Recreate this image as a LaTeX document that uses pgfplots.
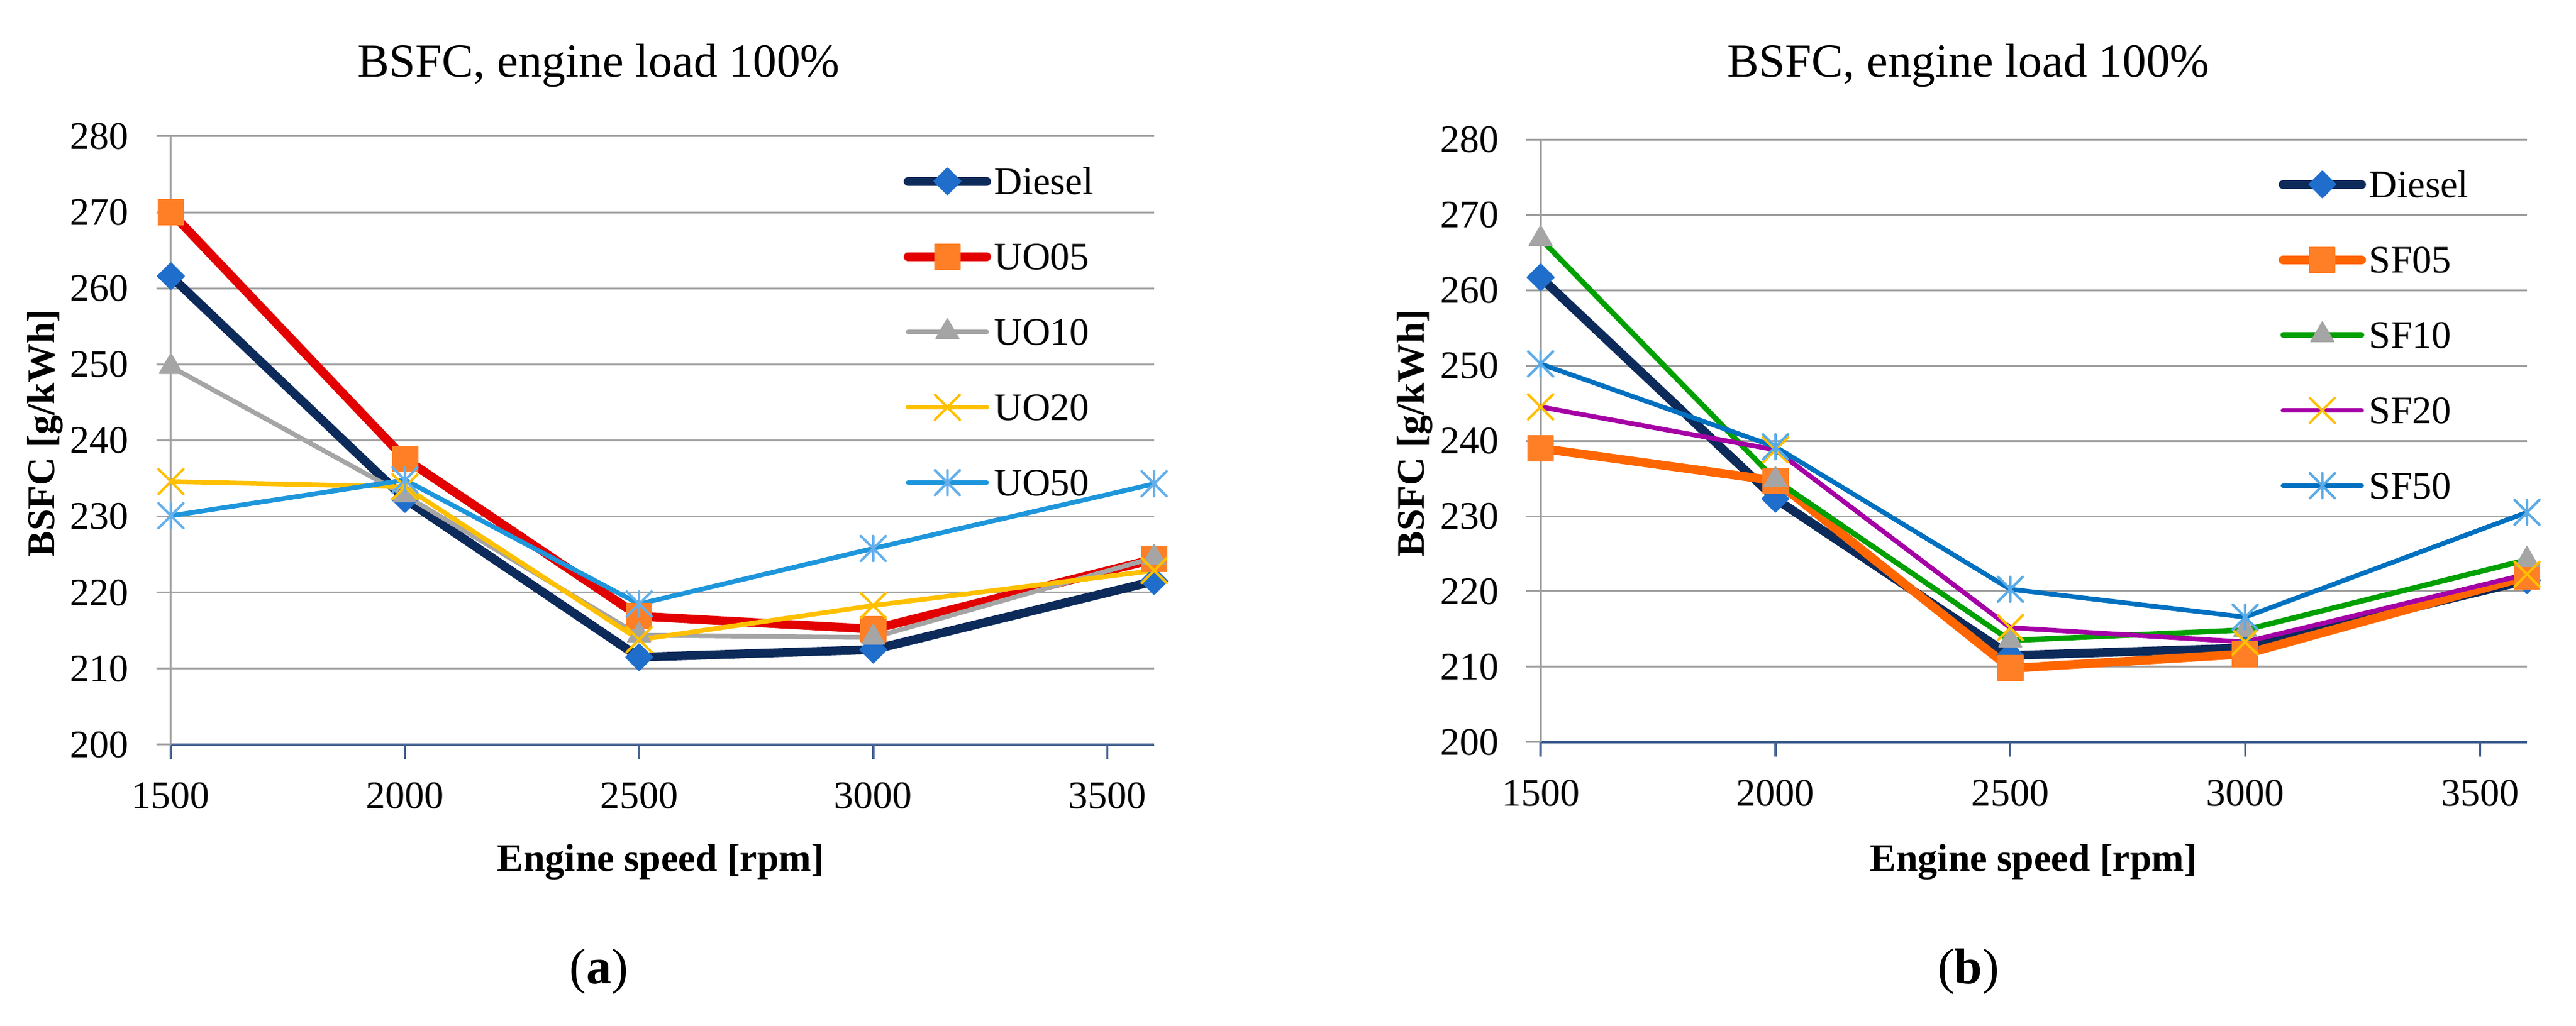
\documentclass[border=0pt]{standalone}
\usepackage{fontspec}
\setmainfont{Liberation Serif}
\usepackage{pgfplots}
\pgfplotsset{compat=1.18}
\usetikzlibrary{plotmarks}

\definecolor{navy}{RGB}{12,42,90}
\definecolor{dblue}{RGB}{31,110,203}
\definecolor{cred}{RGB}{226,0,0}
\definecolor{corange}{RGB}{255,127,39}
\definecolor{cgray}{RGB}{165,165,165}
\definecolor{cgold}{RGB}{255,192,0}
\definecolor{uoblue}{RGB}{30,150,220}
\definecolor{uoblm}{RGB}{100,175,235}
\definecolor{sforange}{RGB}{255,102,0}
\definecolor{sfgreen}{RGB}{0,160,0}
\definecolor{sfpurple}{RGB}{165,0,165}
\definecolor{sfblue}{RGB}{0,112,192}
\definecolor{sfblm}{RGB}{90,170,230}
\definecolor{axblue}{RGB}{68,98,145}
\definecolor{gridgray}{RGB}{160,160,160}

\pgfdeclareplotmark{xstar}{%
  \pgfpathmoveto{\pgfqpoint{-.7071\pgfplotmarksize}{-.7071\pgfplotmarksize}}%
  \pgfpathlineto{\pgfqpoint{.7071\pgfplotmarksize}{.7071\pgfplotmarksize}}%
  \pgfpathmoveto{\pgfqpoint{-.7071\pgfplotmarksize}{.7071\pgfplotmarksize}}%
  \pgfpathlineto{\pgfqpoint{.7071\pgfplotmarksize}{-.7071\pgfplotmarksize}}%
  \pgfpathmoveto{\pgfqpoint{0pt}{-.7071\pgfplotmarksize}}%
  \pgfpathlineto{\pgfqpoint{0pt}{.7071\pgfplotmarksize}}%
  \pgfusepathqstroke}

\pgfplotsset{
  bsfc/.style={
    scale only axis, xmin=1500, xmax=3600, ymin=200, ymax=280,
    xtick={1500,2000,2500,3000,3500}, ytick={200,210,...,280},
    axis x line*=bottom, axis y line*=left,
    x axis line style={-, draw=axblue, line width=0.35pt},
    y axis line style={-, draw=gridgray, line width=0.3pt},
    ymajorgrids, major grid style={draw=gridgray, line width=0.3pt},
    tick align=outside, major tick length=2.3pt,
    xtick style={draw=axblue, line width=0.35pt},
    ytick style={draw=gridgray, line width=0.3pt},
    /pgf/number format/assume math mode=true,
    /pgf/number format/1000 sep={},
    ticklabel style={font=\fontsize{6.2}{7}\selectfont},
    yticklabel style={inner sep=0pt, xshift=-4.2pt},
    xticklabel style={inner sep=0pt, yshift=-3.5pt},
    clip=false,
    legend style={draw=none, fill=none, inner sep=0pt, row sep=0pt, anchor=north west,
      font=\fontsize{6.2}{7}\selectfont,
      nodes={inner xsep=0.5pt, inner ysep=0pt, text height=8.05pt, text depth=3.95pt}},
    legend cell align=left,
    legend image code/.code={\draw[mark repeat=2,mark phase=2,#1] plot coordinates {(0pt,0pt) (6.25pt,0pt) (12.5pt,0pt)};},
    every axis plot/.append style={line join=round, line cap=round},
  },
  thick line/.style={line width=1.4pt},
  thin line/.style={line width=0.75pt},
}

\begin{document}
\begin{tikzpicture}
\path[use as bounding box] (0pt,0pt) rectangle (410pt,163.4pt);

% ---------- panel (a) ----------
\begin{axis}[bsfc, at={(27.2pt,44.8pt)}, anchor=south west, width=156.5pt, height=96.9pt,
  legend style={at={(0.7440,0.9900)}}]
\addplot[navy, thick line, mark=square*, mark size=1.5pt, mark options={rotate=45, fill=dblue, draw=dblue, line width=0.2pt}]
  coordinates {(1500,261.6) (2000,232.3) (2500,211.5) (3000,212.5) (3600,221.5)};
\addlegendentry{Diesel}
\addplot[cred, thick line, mark=square*, mark size=2.0pt, mark options={fill=corange, draw=corange, line width=0.2pt}]
  coordinates {(1500,270.0) (2000,237.6) (2500,216.9) (3000,215.2) (3600,224.4)};
\addlegendentry{UO05}
\addplot[cgray, thin line, mark=triangle*, mark size=2.1pt, mark options={fill=cgray, draw=cgray, line width=0.2pt}]
  coordinates {(1500,249.7) (2000,232.8) (2500,214.4) (3000,214.1) (3600,224.6)};
\addlegendentry{UO10}
\addplot[cgold, thin line, mark=x, mark size=2.8pt, mark options={draw=cgold, line width=0.4pt}]
  coordinates {(1500,234.6) (2000,233.9) (2500,213.8) (3000,218.3) (3600,222.9)};
\addlegendentry{UO20}
\addplot[uoblue, thin line, mark=xstar, mark size=2.8pt, mark options={draw=uoblm, line width=0.4pt}]
  coordinates {(1500,230.1) (2000,234.8) (2500,218.5) (3000,225.8) (3600,234.3)};
\addlegendentry{UO50}
\end{axis}

% ---------- panel (b) ----------
\begin{axis}[bsfc, at={(245.2pt,45.2pt)}, anchor=south west, width=157.0pt, height=96.0pt,
  legend style={at={(0.7470,0.9900)}}]
\addplot[navy, thick line, mark=square*, mark size=1.5pt, mark options={rotate=45, fill=dblue, draw=dblue, line width=0.2pt}]
  coordinates {(1500,261.7) (2000,232.3) (2500,211.5) (3000,212.5) (3600,221.5)};
\addlegendentry{Diesel}
\addplot[sforange, thick line, mark=square*, mark size=2.0pt, mark options={fill=corange, draw=corange, line width=0.2pt}]
  coordinates {(1500,239.0) (2000,234.7) (2500,209.8) (3000,211.7) (3600,222.0)};
\addlegendentry{SF05}
\addplot[sfgreen, line width=0.85pt, mark=triangle*, mark size=2.1pt, mark options={fill=cgray, draw=cgray, line width=0.2pt}]
  coordinates {(1500,266.8) (2000,234.8) (2500,213.5) (3000,214.9) (3600,224.2)};
\addlegendentry{SF10}
\addplot[sfpurple, thin line, mark=x, mark size=2.8pt, mark options={draw=cgold, line width=0.4pt}]
  coordinates {(1500,244.5) (2000,238.8) (2500,215.2) (3000,213.3) (3600,222.3)};
\addlegendentry{SF20}
\addplot[sfblue, thin line, mark=xstar, mark size=2.8pt, mark options={draw=sfblm, line width=0.4pt}]
  coordinates {(1500,250.2) (2000,239.2) (2500,220.3) (3000,216.6) (3600,230.5)};
\addlegendentry{SF50}
\end{axis}

% ---------- titles and labels ----------
\node[anchor=base, inner sep=0pt, font=\fontsize{7.55}{9}\selectfont] at (95.3pt,151.1pt) {BSFC, engine load 100\%};
\node[anchor=base, inner sep=0pt, font=\fontsize{7.55}{9}\selectfont] at (313.3pt,151.1pt) {BSFC, engine load 100\%};
\node[anchor=base, inner sep=0pt, font=\fontsize{6.2}{7}\selectfont\bfseries] at (105.2pt,24.6pt) {Engine speed [rpm]};
\node[anchor=base, inner sep=0pt, font=\fontsize{6.2}{7}\selectfont\bfseries] at (323.7pt,24.6pt) {Engine speed [rpm]};
\node[anchor=base, rotate=90, inner sep=0pt, font=\fontsize{6.2}{7}\selectfont\bfseries] at (8.6pt,94.4pt) {BSFC [g/kWh]};
\node[anchor=base, rotate=90, inner sep=0pt, font=\fontsize{6.2}{7}\selectfont\bfseries] at (226.6pt,94.4pt) {BSFC [g/kWh]};
\node[anchor=base, inner sep=0pt, font=\fontsize{8}{9}\selectfont] at (95.3pt,6.7pt) {(\textbf{a})};
\node[anchor=base, inner sep=0pt, font=\fontsize{8}{9}\selectfont] at (313.3pt,6.7pt) {(\textbf{b})};
\end{tikzpicture}
\end{document}
